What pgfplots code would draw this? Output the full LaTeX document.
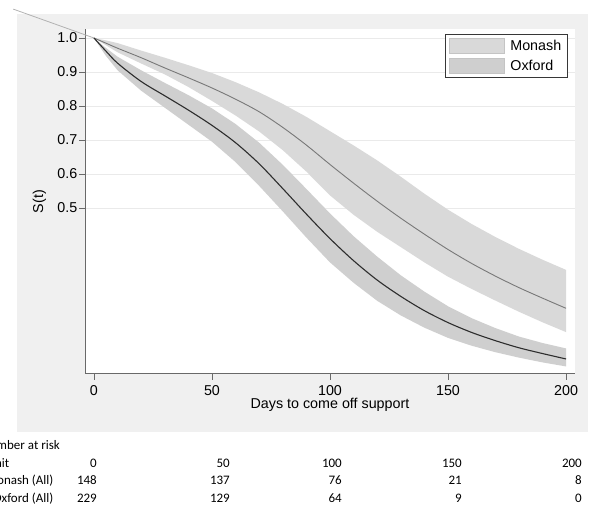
\documentclass[border=0pt]{standalone}
\usepackage{fontspec}
\setmainfont{Liberation Sans}
\newfontfamily\calibri{Carlito}
\usepackage{pgfplots}
\pgfplotsset{compat=1.18}
\usepackage{pgfplotstable}

\definecolor{panel}{RGB}{240,240,240}
\definecolor{axisgray}{RGB}{105,105,105}
\definecolor{gridgray}{RGB}{234,234,234}
\definecolor{monashband}{RGB}{217,217,217}
\definecolor{oxfordband}{RGB}{207,207,207}
\definecolor{swatchedge}{RGB}{196,196,196}
\definecolor{legendedge}{RGB}{55,55,55}
\definecolor{monashline}{RGB}{120,120,120}
\definecolor{oxfordline}{RGB}{45,45,45}
\definecolor{diag}{RGB}{178,178,178}

% survival estimates
\pgfplotstableread{
x    s
0    1.000
5    0.985
10   0.970
20   0.942
30   0.912
40   0.883
50   0.853
60   0.820
70   0.783
80   0.737
90   0.685
100  0.628
110  0.573
120  0.520
130  0.470
140  0.423
150  0.378
160  0.337
170  0.300
180  0.266
190  0.235
200  0.205
}\monash

\pgfplotstableread{
x    s
0    1.000
5    0.962
10   0.926
20   0.872
30   0.830
40   0.788
50   0.743
60   0.692
70   0.630
80   0.557
90   0.482
100  0.410
110  0.345
120  0.288
130  0.240
140  0.198
150  0.163
160  0.134
170  0.110
180  0.089
190  0.072
200  0.056
}\oxford

% confidence bands: upper bound forward, lower bound back
\pgfplotstableread{
x    y
0    1.000
5    0.993
10   0.985
20   0.963
30   0.942
40   0.920
50   0.897
60   0.870
70   0.840
80   0.806
90   0.768
100  0.726
110  0.684
120  0.640
130  0.592
140  0.542
150  0.495
160  0.453
170  0.415
180  0.380
190  0.348
200  0.318
200  0.135
190  0.164
180  0.195
170  0.228
160  0.262
150  0.298
140  0.340
130  0.385
120  0.430
110  0.480
100  0.537
90   0.607
80   0.670
70   0.725
60   0.772
50   0.815
40   0.856
30   0.893
20   0.925
10   0.958
5    0.979
0    1.000
}\monashband

\pgfplotstableread{
x    y
0    1.000
5    0.971
10   0.945
20   0.905
30   0.868
40   0.832
50   0.793
60   0.747
70   0.692
80   0.627
90   0.556
100  0.484
110  0.417
120  0.357
130  0.302
140  0.254
150  0.211
160  0.176
170  0.147
180  0.122
190  0.103
200  0.087
200  0.034
190  0.046
180  0.060
170  0.076
160  0.095
150  0.118
140  0.148
130  0.184
120  0.227
110  0.280
100  0.340
90   0.413
80   0.490
70   0.565
60   0.635
50   0.695
40   0.745
30   0.795
20   0.845
10   0.905
5    0.948
0    1.000
}\oxfordband

\begin{document}
\begin{tikzpicture}
\path (0pt,0pt) rectangle (592pt,505pt);
\fill[panel] (17pt,73pt) rectangle (588pt,491pt);
\begin{axis}[
  at={(85pt,131pt)}, anchor=south west,
  scale only axis, width=490pt, height=345pt,
  xmin=-3.8, xmax=203.8, ymin=0.0118, ymax=1.0265,
  clip=false,
  axis background/.style={fill=white},
  axis lines*=left,
  axis line style={draw=axisgray, line width=1pt, -},
  xtick={0,50,100,150,200},
  ytick={0.5,0.6,0.7,0.8,0.9,1.0},
  tick align=outside,
  major tick length=6pt,
  tick style={draw=axisgray, line width=0.8pt},
  ymajorgrids,
  grid style={draw=gridgray, line width=1pt},
  /pgf/number format/assume math mode=true,
  yticklabel style={/pgf/number format/.cd, fixed, fixed zerofill, precision=1, /tikz/.cd, font=\fontsize{14.3}{17}\selectfont, inner sep=1.5pt},
  xticklabel style={font=\fontsize{14.3}{17}\selectfont, inner sep=5pt},
  xlabel={Days to come off support},
  ylabel={S(t)},
  xlabel style={font=\fontsize{14.3}{17}\selectfont, at={(axis description cs:0.5,0)}, anchor=base, yshift=-35pt},
  ylabel style={font=\fontsize{14.3}{17}\selectfont, at={(axis description cs:-0.093,0.5)}, anchor=center},
  legend style={at={(axis description cs:0.985,0.9855)}, anchor=north east,
    draw=legendedge, line width=0.8pt, fill=white,
    inner xsep=3pt, inner ysep=3pt, row sep=3pt,
    font=\fontsize{14.3}{17}\selectfont,
    nodes={inner xsep=3pt, inner ysep=2.5pt},
    /tikz/every odd column/.append style={column sep=3pt}},
  legend cell align=left,
  legend image code/.code={\filldraw[#1] (0pt,-7.5pt) rectangle (55pt,7.5pt);},
]
\addplot[draw=diag, line width=0.8pt, forget plot] coordinates {(-34.2,1.085) (0,1.0)};

\addplot[fill=monashband, draw=none, forget plot] table[x=x, y=y] {\monashband} -- cycle;
\addplot[fill=oxfordband, draw=none, forget plot] table[x=x, y=y] {\oxfordband} -- cycle;

\addplot[draw=monashline, line width=0.9pt, smooth, forget plot] table[x=x, y=s] {\monash};
\addplot[draw=oxfordline, line width=1.1pt, smooth, forget plot] table[x=x, y=s] {\oxford};

\addlegendimage{fill=monashband, draw=swatchedge, line width=0.6pt}
\addlegendentry{Monash}
\addlegendimage{fill=oxfordband, draw=swatchedge, line width=0.6pt}
\addlegendentry{Oxford}
\end{axis}

\begin{scope}[font=\calibri\fontsize{13}{15}\selectfont]
\clip (0pt,0pt) rectangle (592pt,505pt);
\node[overlay, anchor=base east, inner sep=0pt] at (60pt,55.5pt) {Number at risk};
\node[overlay, anchor=base east, inner sep=0pt] at (9.5pt,37.7pt) {Unit};
\node[overlay, anchor=base east, inner sep=0pt] at (53.5pt,20pt) {Monash (All)};
\node[overlay, anchor=base east, inner sep=0pt] at (53.5pt,2.7pt) {Oxford (All)};
\foreach \xx/\a/\b/\c in {97/0/148/229, 230/50/137/129, 342/100/76/64, 462/150/21/9, 582/200/8/0} {
  \node[overlay, anchor=base east, inner sep=0pt] at (\xx pt,37.7pt) {\a};
  \node[overlay, anchor=base east, inner sep=0pt] at (\xx pt,20pt) {\b};
  \node[overlay, anchor=base east, inner sep=0pt] at (\xx pt,2.7pt) {\c};
}
\end{scope}
\end{tikzpicture}
\end{document}
